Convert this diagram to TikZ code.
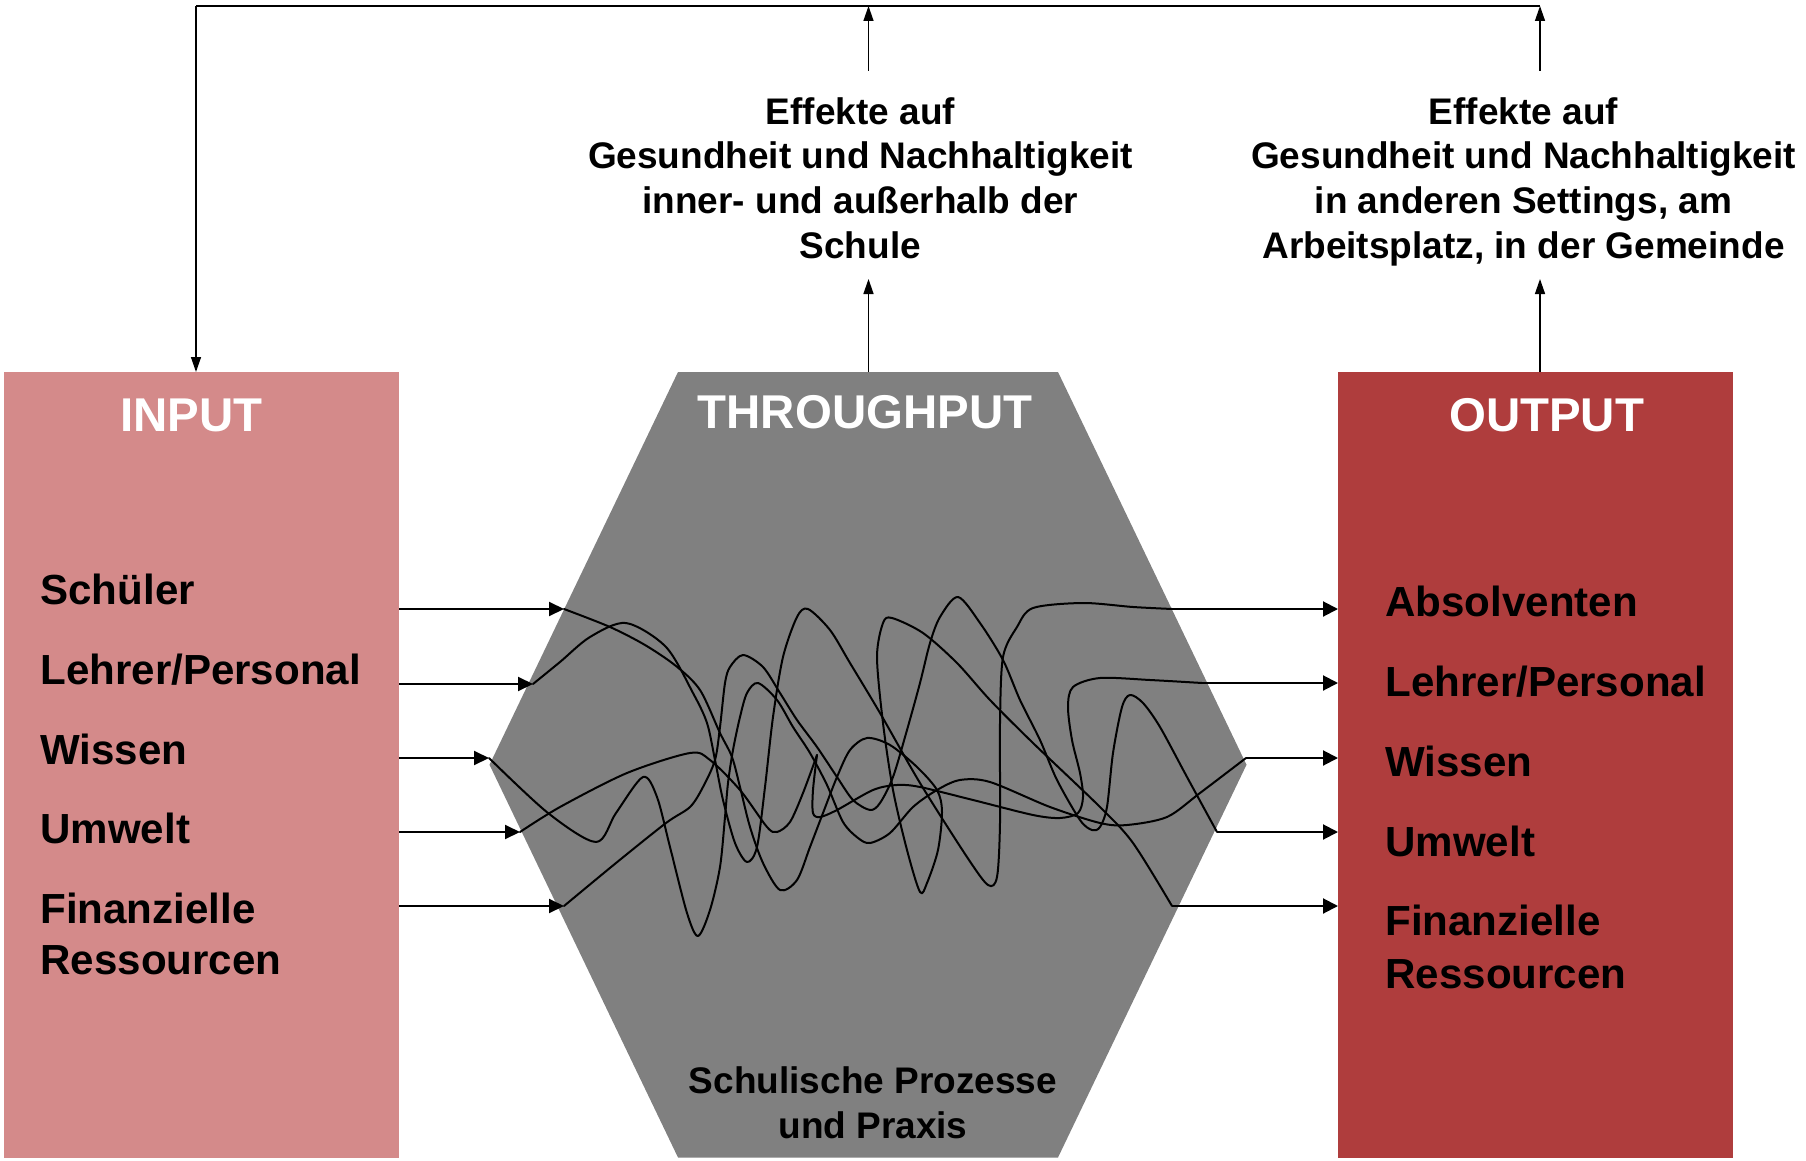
\documentclass[tikz,border=0pt]{standalone}
\usepackage{fontspec}
\setmainfont{Liberation Sans}
\usetikzlibrary{arrows.meta}
\definecolor{inpink}{RGB}{212,138,138}
\definecolor{outred}{RGB}{175,61,61}
\definecolor{hexgray}{RGB}{128,128,128}
\begin{document}
\begin{tikzpicture}[x=0.5pt,y=-0.5pt,
  box/.style={rectangle,draw=none,inner sep=0,outer sep=0},
  headtxt/.style={font=\fontsize{23.7}{28}\selectfont\bfseries,text=white,anchor=base,inner sep=0},
  lbltxt/.style={font=\fontsize{21.05}{26}\selectfont\bfseries,anchor=base west,inner sep=0},
  efftxt/.style={font=\fontsize{18.5}{22}\selectfont\bfseries,anchor=base,inner sep=0},
  inarrow/.style={line width=1pt,-{Triangle[length=7.5pt,width=7pt]}},
  outarrow/.style={line width=1pt,-{Triangle[length=7.5pt,width=7.5pt]}},
  toparrow/.style={line width=0.7pt,-{Triangle[length=7.5pt,width=5pt]}},
  topline/.style={line width=0.9pt},
  curve/.style={line width=1pt,line join=round,line cap=round}
]
\useasboundingbox (0,0) rectangle (1806,1161);

% boxes
\node[box,fill=inpink,minimum width=197.5pt,minimum height=392.75pt] (in) at (201.5,764.75) {};
\node[box,fill=outred,minimum width=197.35pt,minimum height=392.75pt] (out) at (1535.35,764.75) {};

% hexagon
\coordinate (h1) at (678,372);
\coordinate (h2) at (1058,372);
\coordinate (h3) at (1246.5,764.75);
\coordinate (h4) at (1058,1157.5);
\coordinate (h5) at (678,1157.5);
\coordinate (h6) at (489.5,764.75);
\fill[hexgray] (h1)--(h2)--(h3)--(h4)--(h5)--(h6)--cycle;

% headings
\node[headtxt] (hin) at (191.5,431.5) {INPUT};
\node[headtxt] (hthr) at (865,428) {THROUGHPUT};
\node[headtxt] (hout) at (1546.7,431.5) {OUTPUT};

% input labels
\node[lbltxt] (il1) at (40,604) {Schüler};
\node[lbltxt] (il2) at (40,684.5) {Lehrer/Personal};
\node[lbltxt] (il3) at (40,764) {Wissen};
\node[lbltxt] (il4) at (40,843.7) {Umwelt};
\node[lbltxt] (il5) at (40,923.3) {Finanzielle};
\node[lbltxt] (il6) at (40,974.3) {Ressourcen};

% output labels
\node[lbltxt] (ol1) at (1385,616.7) {Absolventen};
\node[lbltxt] (ol2) at (1385,696.7) {Lehrer/Personal};
\node[lbltxt] (ol3) at (1385,776.7) {Wissen};
\node[lbltxt] (ol4) at (1385,856.6) {Umwelt};
\node[lbltxt] (ol5) at (1385,935.8) {Finanzielle};
\node[lbltxt] (ol6) at (1385,988) {Ressourcen};

% effect texts
\node[efftxt] (ea1) at (860.4,124.5) {Effekte auf};
\node[efftxt] (ea2) at (860.4,169) {Gesundheit und Nachhaltigkeit};
\node[efftxt] (ea3) at (860.4,213.5) {inner- und außerhalb der};
\node[efftxt] (ea4) at (860.4,258) {Schule};
\node[efftxt] (eb1) at (1523.5,124.5) {Effekte auf};
\node[efftxt] (eb2) at (1523.5,169) {Gesundheit und Nachhaltigkeit};
\node[efftxt] (eb3) at (1523.5,213.5) {in anderen Settings, am};
\node[efftxt] (eb4) at (1523.5,258) {Arbeitsplatz, in der Gemeinde};

% bottom text
\node[efftxt] (sp1) at (873,1093.5) {Schulische Prozesse};
\node[efftxt] (sp2) at (873,1138) {und Praxis};

% top connectors
\coordinate (tl) at (196,6);
\coordinate (tm) at (868.5,6);
\coordinate (tr) at (1540,6);
\coordinate (em) at (868.5,70.7);
\coordinate (er) at (1540,70.7);
\coordinate (hm) at (868.5,372);
\coordinate (hmt) at (868.5,279);
\coordinate (ort) at (1540,279);
\draw[topline] (tl) -- (tr);
\draw[toparrow] (tl) -- (tl |- in.north);
\draw[toparrow] (em) -- (tm);
\draw[toparrow] (er) -- (tr);
\draw[toparrow] (hm) -- (hmt);
\draw[toparrow] (tr |- out.north) -- (ort);

% input / output arrows
\coordinate (S1) at (564,609);
\coordinate (S2) at (533,684);
\coordinate (S3) at (489,758);
\coordinate (S4) at (520,832);
\coordinate (S5) at (564,906);
\coordinate (E1) at (1172,609);
\coordinate (E2) at (1202,683);
\coordinate (E3) at (1246,758);
\coordinate (E4) at (1217,832);
\coordinate (E5) at (1172,906);
\foreach \i in {1,...,5}{
  \draw[inarrow] (in.east |- S\i) -- (S\i);
  \draw[outarrow] (E\i) -- (E\i -| out.west);
}

% tangled curves
\draw[curve] plot[smooth] coordinates {(S1) (610,627) (645,645) (676,666) (700,690) (720,733) (732,757) (740,787) (750,827) (763,863) (780,890) (797,880) (810,847) (823,813) (837,777) (850,750) (867,738) (890,745) (917,767) (937,790) (942,812) (938,850) (927,883) (920,892) (907,850) (893,790) (883,723) (877,657) (883,623) (892,618) (923,633) (957,663) (990,700) (1033,743) (1100,807) (1133,843) (E5)};

\draw[curve] plot[smooth] coordinates {(S2) (560,662) (590,637) (626,623) (666,647) (693,693) (707,723) (715,760) (723,800) (735,843) (747,862) (757,847) (765,787) (773,717) (783,657) (797,617) (808,609) (830,630) (850,663) (880,713) (920,783) (967,857) (988,885) (997,877) (1000,823) (1000,723) (1003,657) (1017,627) (1033,608) (1083,603) (1133,607) (E1)};

\draw[curve] plot[smooth] coordinates {(S3) (548,813) (596,842) (616,813) (643,777) (657,797) (670,847) (687,913) (698,936) (710,910) (720,867) (725,817) (728,783) (733,750) (740,717) (747,693) (758,683) (777,700) (793,727) (810,753) (827,785) (843,822) (858,838) (870,843) (890,833) (913,807) (937,790) (960,780) (990,782) (1050,807) (1100,823) (1127,825) (1167,817) (1200,793) (E3)};

\draw[curve] plot[smooth] coordinates {(S4) (560,807) (627,773) (690,753) (710,760) (740,790) (767,827) (777,832) (790,822) (803,793) (817,755)};
\draw[curve] plot[smooth] coordinates {(817,755) (813,790) (813,813) (820,817) (837,810) (873,790) (897,785) (920,787) (973,800) (1033,815) (1060,818) (1078,813) (1083,797) (1080,773) (1072,740) (1068,707) (1073,687) (1100,678) (1150,680) (E2)};

\draw[curve] plot[smooth] coordinates {(S5) (616,863) (666,823) (690,807) (703,787) (715,760) (720,727) (725,683) (730,667) (743,655) (763,667) (780,693) (797,720) (817,747) (837,777) (853,800) (870,810) (880,803) (893,777) (907,730) (920,683) (930,643) (940,617) (958,597) (980,623) (1003,660) (1020,700) (1040,740) (1057,780) (1080,820) (1092,830) (1100,827) (1107,807) (1113,753) (1122,707) (1130,695) (1143,703) (1160,727) (1187,777) (E4)};
\end{tikzpicture}
\end{document}
